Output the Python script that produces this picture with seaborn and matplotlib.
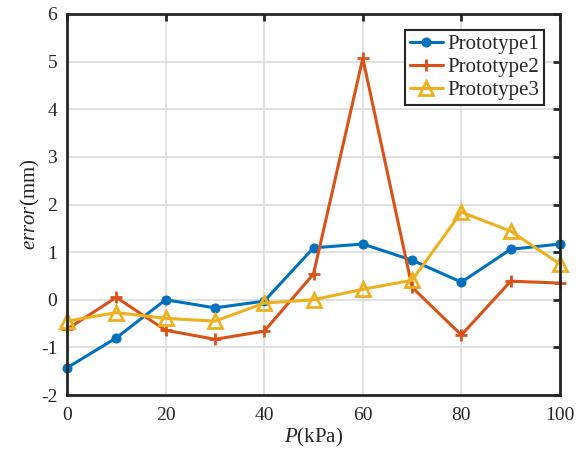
import matplotlib
matplotlib.use("Agg")
import matplotlib.pyplot as plt
import seaborn as sns
import pandas as pd
import numpy as np

pressure = [0, 10, 20, 30, 40, 50, 60, 70, 80, 90, 100]
prototype1 = [-1.43, -0.80, 0.00, -0.17, -0.03, 1.09, 1.17, 0.83, 0.37, 1.06, 1.17]
prototype2 = [-0.62, 0.05, -0.64, -0.83, -0.66, 0.54, 5.07, 0.26, -0.74, 0.39, 0.35]
prototype3 = [-0.45, -0.27, -0.39, -0.45, -0.07, 0.00, 0.22, 0.41, 1.84, 1.44, 0.75]
series_names = ["Prototype1", "Prototype2", "Prototype3"]
x_ticks = [0, 20, 40, 60, 80, 100]
y_ticks = [-2, -1, 0, 1, 2, 3, 4, 5, 6]

sns.set_style("white")
plt.rcParams['font.family'] = ['Liberation Serif', 'DejaVu Serif']
plt.rcParams['mathtext.fontset'] = 'custom'
plt.rcParams['mathtext.rm'] = 'Liberation Serif'
plt.rcParams['mathtext.it'] = 'Liberation Serif:italic'
plt.rcParams['axes.unicode_minus'] = False

df = pd.DataFrame({
    "P": pressure * 3,
    "error": prototype1 + prototype2 + prototype3,
    "series": sum([[n] * len(pressure) for n in series_names], []),
})

colors = ["#0072BD", "#D95319", "#EDB120"]
fig = plt.figure(figsize=(5.87, 4.59), dpi=100)
ax = fig.add_axes([67/587, 1 - 395/459, (560-67)/587, (395-14)/459])

styles = [dict(marker="o", markersize=6.5, markerfacecolor=colors[0], markeredgecolor=colors[0]),
          dict(marker="+", markersize=8, markeredgewidth=2, markeredgecolor=colors[1]),
          dict(marker="^", markersize=9.5, markerfacecolor="none", markeredgewidth=2, markeredgecolor=colors[2])]
for name, c, st in zip(series_names, colors, styles):
    sub = df[df["series"] == name]
    sns.lineplot(data=sub, x="P", y="error", ax=ax, color=c, linewidth=2.2,
                 label=name, clip_on=False, **st)

ax.set_xlim(0, 100)
ax.set_ylim(-2, 6)
ax.set_xticks(x_ticks)
ax.set_yticks(y_ticks)
ax.grid(True, color="#dcdcdc", linewidth=1.2)
ax.set_axisbelow(True)
for s in ax.spines.values():
    s.set_visible(True)
    s.set_color("#262626")
    s.set_linewidth(2)
ax.tick_params(direction="in", length=5, width=2, top=True, right=True,
               labelsize=14, colors="#262626")
ax.tick_params(axis="y", pad=7)
ax.tick_params(axis="x", pad=9)
ax.set_xlabel(r"$\it{P}$(kPa)", fontsize=15, labelpad=1)
ax.set_ylabel(r"$\it{error}$(mm)", fontsize=15, labelpad=-1)
leg = ax.legend(loc="upper right", fontsize=15, frameon=True, fancybox=False,
                edgecolor="#262626", framealpha=1, borderaxespad=0.75,
                handlelength=1.6, handletextpad=0.2, labelspacing=0.15, borderpad=0.25)
leg.get_frame().set_linewidth(1.5)
fig.savefig("out.png", dpi=100)
